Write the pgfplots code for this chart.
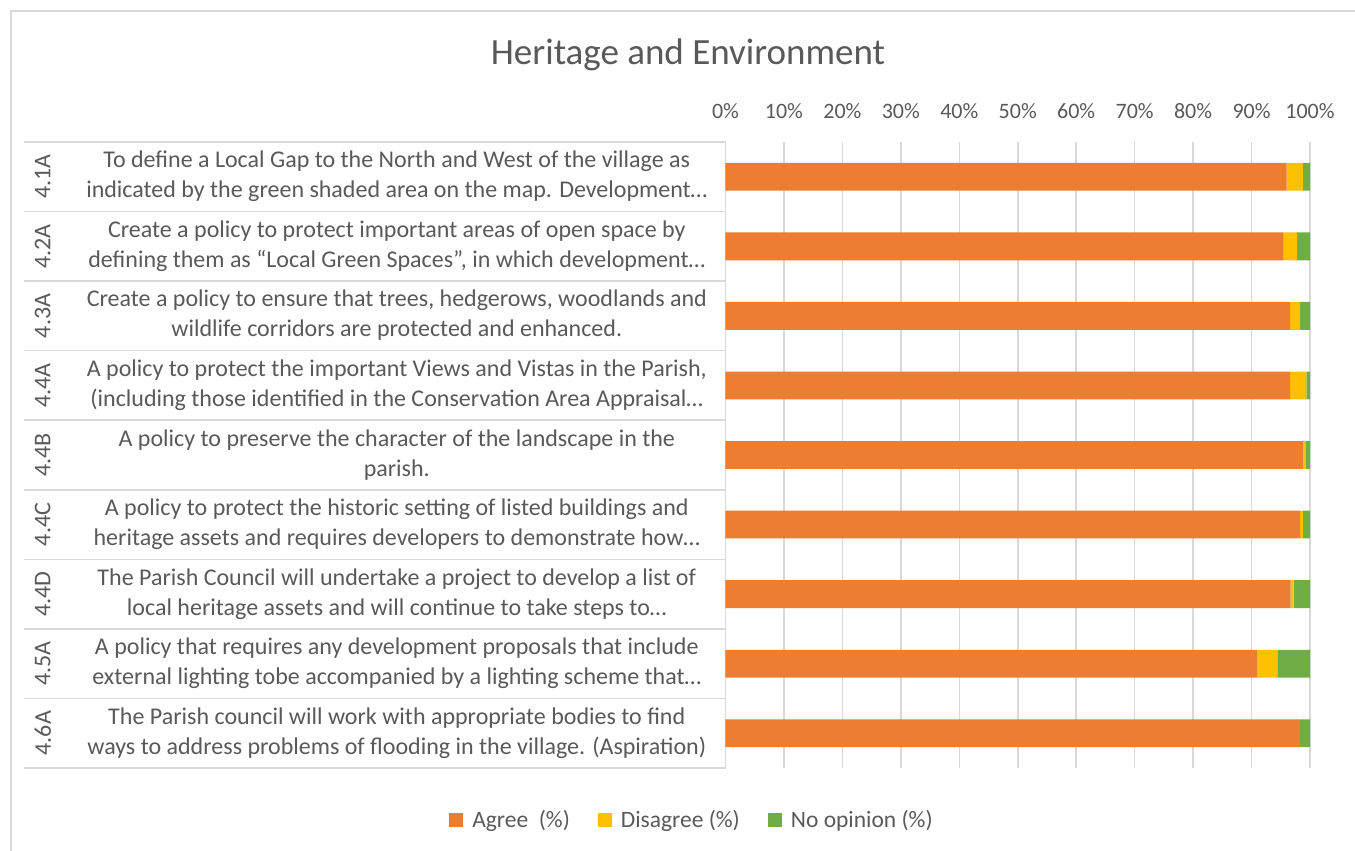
\documentclass[border=0pt]{standalone}
\usepackage{pgfplots}
\pgfplotsset{compat=1.18}
\usepackage{fontspec}
\setmainfont{Carlito}
\definecolor{cOrange}{HTML}{ED7D31}
\definecolor{cYellow}{HTML}{FFC000}
\definecolor{cGreen}{HTML}{70AD47}
\definecolor{cText}{HTML}{595959}
\definecolor{cGrid}{HTML}{D9D9D9}
\newcommand{\lab}[2]{\makebox[30pt]{$\vcenter{\hbox{\rotatebox{90}{#1}}}$}\hspace{19pt}\makebox[640pt][c]{\begin{tabular}{@{}c@{}}#2\end{tabular}}}
\begin{document}
\begin{tikzpicture}
\useasboundingbox (0,0) rectangle (1355pt,851pt);
\draw[cGrid, line width=2pt] (11pt,0pt) -- (11pt,840pt) -- (1360pt,840pt);
\node[anchor=base, text=cText, font=\fontsize{37}{44}\selectfont] at (688pt,786pt) {Heritage and Environment};
\foreach \k in {0,...,9} {
  \pgfmathsetmacro{\yy}{709-\k*69.5556}
  \draw[cGrid, line width=1.5pt] (24pt,\yy pt) -- (725.5pt,\yy pt);
}
\begin{axis}[
  at={(725.5pt,83pt)}, anchor=south west,
  scale only axis, width=584.5pt, height=626pt,
  xbar stacked, bar width=0.4,
  xmin=0, xmax=100, ymin=-0.5, ymax=8.5, y dir=reverse,
  axis line style={draw=none},
  xtick={0,10,...,100},
  xticklabels={0\%,10\%,20\%,30\%,40\%,50\%,60\%,70\%,80\%,90\%,100\%},
  xticklabel pos=top,
  xticklabel style={anchor=base, yshift=24pt, text=cText, font=\fontsize{22}{26}\selectfont},
  xmajorgrids, major grid style={cGrid, line width=1.5pt},
  major tick length=0pt,
  ytick={0,...,8},
  yticklabels={
    {\lab{4.1A}{To define a Local Gap to the North and West of the village as\\indicated by the green shaded area on the map. Development…}},
    {\lab{4.2A}{Create a policy to protect important areas of open space by\\defining them as “Local Green Spaces”, in which development…}},
    {\lab{4.3A}{Create a policy to ensure that trees, hedgerows, woodlands and\\wildlife corridors are protected and enhanced.}},
    {\lab{4.4A}{A policy to protect the important Views and Vistas in the Parish,\\(including those identified in the Conservation Area Appraisal…}},
    {\lab{4.4B}{A policy to preserve the character of the landscape in the\\parish.}},
    {\lab{4.4C}{A policy to protect the historic setting of listed buildings and\\heritage assets and requires developers to demonstrate how…}},
    {\lab{4.4D}{The Parish Council will undertake a project to develop a list of\\local heritage assets and will continue to take steps to…}},
    {\lab{4.5A}{A policy that requires any development proposals that include\\external lighting tobe accompanied by a lighting scheme that…}},
    {\lab{4.6A}{The Parish council will work with appropriate bodies to find\\ways to address problems of flooding in the village. (Aspiration)}}
  },
  yticklabel style={anchor=east, inner sep=0pt, xshift=-8.5pt, text=cText, font=\fontsize{24}{30}\selectfont},
  legend columns=3,
  legend style={at={(-0.0573,-0.0831)}, anchor=center, draw=none, fill=none,
    text=cText, font=\fontsize{23.5}{28}\selectfont,
    /tikz/every even column/.append style={column sep=26pt}},
  legend image code/.code={\fill[#1] (0pt,-7pt) rectangle (14pt,7pt); \path (21pt,0pt);},
]
\addplot[fill=cOrange, draw=none] coordinates {(96.0,0) (95.5,1) (96.6,2) (96.6,3) (98.8,4) (98.3,5) (96.7,6) (91.0,7) (98.3,8)};
\addlegendentry{Agree~ (\%)}
\addplot[fill=cYellow, draw=none] coordinates {(2.8,0) (2.3,1) (1.7,2) (2.8,3) (0.5,4) (0.5,5) (0.5,6) (3.4,7) (0,8)};
\addlegendentry{Disagree (\%)}
\addplot[fill=cGreen, draw=none] coordinates {(1.2,0) (2.2,1) (1.7,2) (0.6,3) (0.7,4) (1.2,5) (2.8,6) (5.6,7) (1.7,8)};
\addlegendentry{No opinion (\%)}
\end{axis}
\end{tikzpicture}
\end{document}
